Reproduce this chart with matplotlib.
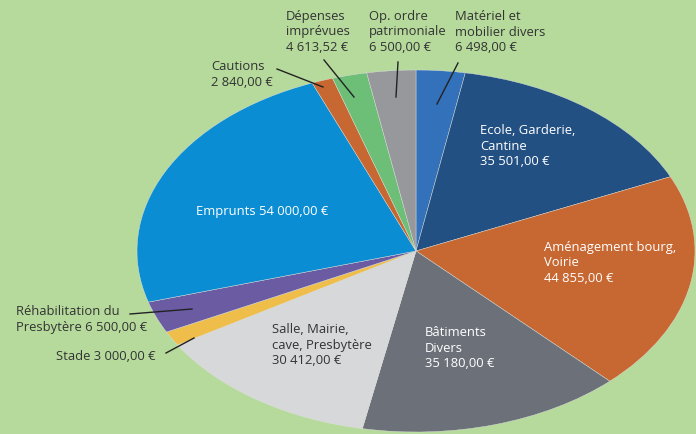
import matplotlib
matplotlib.use("Agg")
import matplotlib.pyplot as plt

# budget lines, clockwise from 12 o'clock
labels = [
    "Matériel et\nmobilier divers\n6 498,00 €",
    "Ecole, Garderie,\nCantine\n35 501,00 €",
    "Aménagement bourg,\nVoirie\n44 855,00 €",
    "Bâtiments\nDivers\n35 180,00 €",
    "Salle, Mairie,\ncave, Presbytère\n30 412,00 €",
    "Stade 3 000,00 €",
    "Réhabilitation du\nPresbytère 6 500,00 €",
    "Emprunts 54 000,00 €",
    "Cautions\n2 840,00 €",
    "Dépenses\nimprévues\n4 613,52 €",
    "Op. ordre\npatrimoniale\n6 500,00 €",
]
values = [6498.00, 35501.00, 44855.00, 35180.00, 30412.00, 3000.00,
          6500.00, 54000.00, 2840.00, 4613.52, 6500.00]
colors = ["#3372BA", "#235083", "#C76731", "#6C7078", "#D7D8DA", "#EFBD4A",
          "#6A5BA3", "#0A8DD3", "#C76731", "#6DBF78", "#97989C"]

BG = "#B6DA9C"
DARK = "#333333"
W, H = 696, 434
CX, CY, RX, RY = 416, 251, 279, 181

plt.rcParams["font.family"] = ["Open Sans", "DejaVu Sans"]

fig = plt.figure(figsize=(W / 100, H / 100), dpi=100, facecolor=BG)
ax = fig.add_axes([0, 0, 1, 1])
ax.set_facecolor(BG)

ax.pie(values, colors=colors, startangle=90, counterclock=False,
       wedgeprops=dict(linewidth=0.3, edgecolor="#e0e0e0"))
ax.set_aspect("auto")
ax.set_xlim(-CX / RX, (W - CX) / RX)
ax.set_ylim(-(H - CY) / RY, CY / RY)
ax.axis("off")


def px(x, y):
    # pixel position in the picture -> data coords of the unit pie
    return (x - CX) / RX, (CY - y) / RY


# label placement: (index, x, y of first line centre, colour, ha)
placements = [
    (1, 480, 131, "white", "left"),
    (2, 544, 248, "white", "left"),
    (3, 425, 333, "white", "left"),
    (4, 272, 330, DARK, "left"),
    (7, 196, 212, "white", "left"),
    (8, 211, 67, DARK, "left"),
    (9, 286, 17, DARK, "left"),
    (10, 369, 17, DARK, "left"),
    (0, 455, 17, DARK, "left"),
    (6, 16, 312, DARK, "left"),
    (5, 155, 357, DARK, "right"),
]
for i, x, y, c, ha in placements:
    tx, ty = px(x, y - 7)
    ax.text(tx, ty, labels[i], color=c, ha=ha, va="top", fontsize=9.4,
            linespacing=1.25)

# leader lines
leaders = [
    ((277, 69), (323, 87)),
    ((324, 60), (354, 97)),
    ((398, 62), (396, 97)),
    ((458, 63), (437, 104)),
    ((130, 314), (192, 309)),
    ((166, 353), (194, 338)),
]
for a, b in leaders:
    (x0, y0), (x1, y1) = px(*a), px(*b)
    ax.plot([x0, x1], [y0, y1], color="#222222", linewidth=1.0)

fig.savefig("out.png", dpi=100, facecolor=BG)
